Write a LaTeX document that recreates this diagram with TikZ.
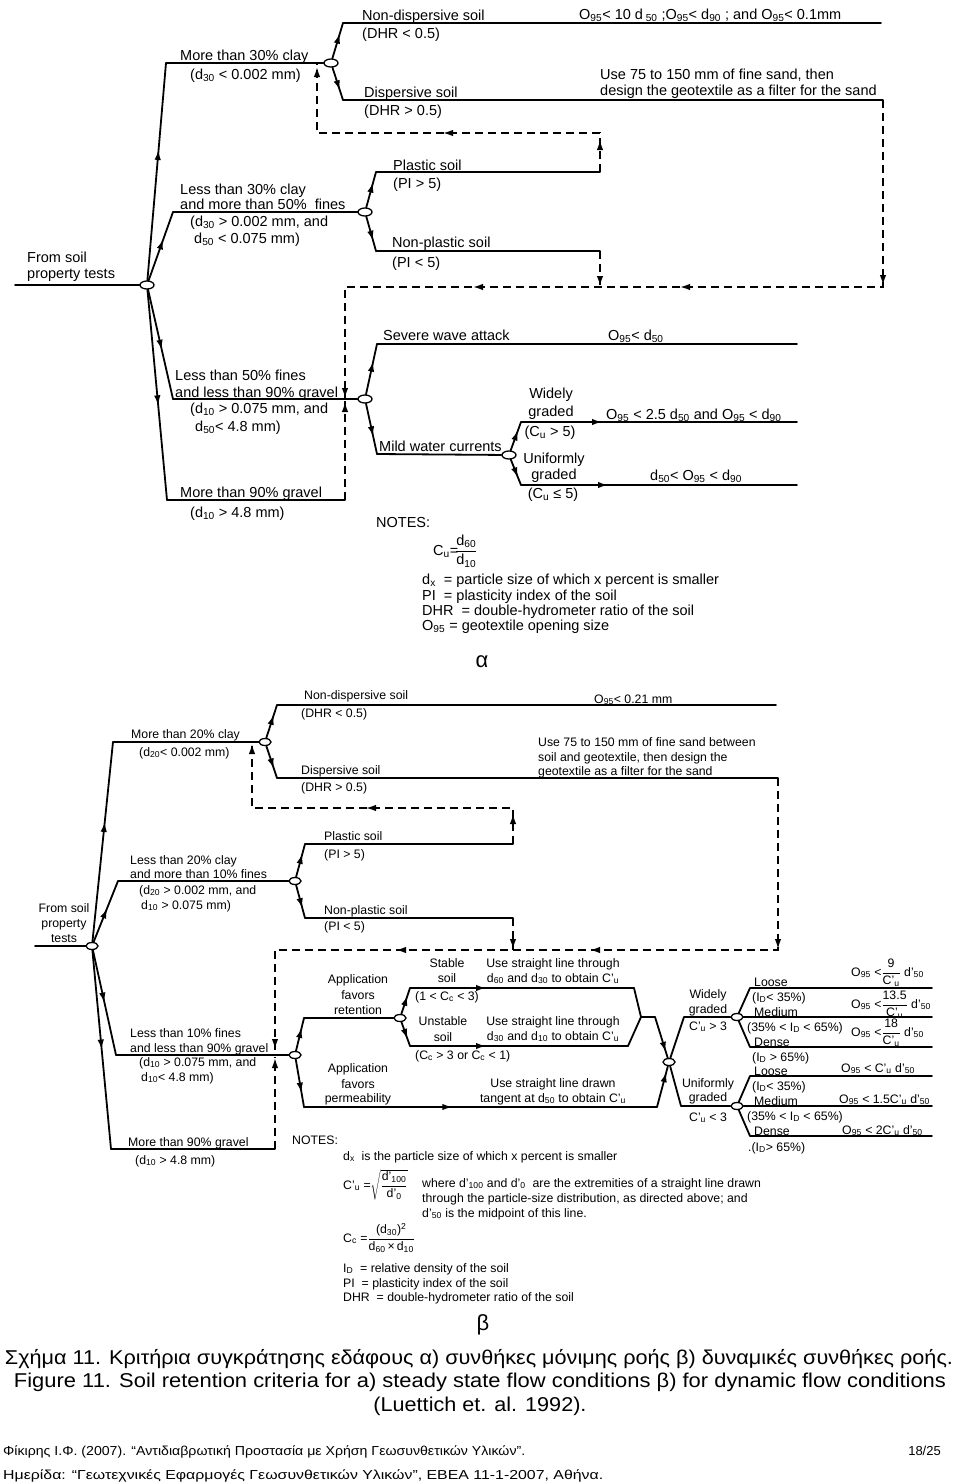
\documentclass[tikz,border=0pt]{standalone}
\usepackage{fontspec}
\setmainfont{Liberation Sans}
\usepackage{graphicx}
\usetikzlibrary{shapes.geometric,arrows.meta,decorations.markings}
\newcommand{\sbs}[1]{\textsubscript{#1}}
\newcommand{\fA}{\fontsize{14.5}{16}\selectfont}
\newcommand{\fB}{\fontsize{12.3}{14}\selectfont}
\newcommand{\fC}{\fontsize{20}{24}\selectfont}
\newcommand{\fD}{\fontsize{13}{15}\selectfont}
\newcommand{\fG}{\fontsize{22}{24}\selectfont}
\begin{document}
\begin{tikzpicture}[x=1pt,y=-1pt,
  ln/.style={line width=1.8pt,line cap=round,line join=round},
  dl/.style={line width=1.6pt,dash pattern=on 8pt off 5pt},
  jn/.style={ellipse,draw,fill=white,line width=1.3pt,minimum width=14pt,minimum height=8pt,inner sep=0pt},
  jb/.style={jn,minimum width=12pt,minimum height=7pt},
  am/.style={postaction={decorate,decoration={markings,mark=at position #1 with {\arrow{Latex[length=10pt,width=6.5pt]}}}}},
  ta/.style={font=\fA,anchor=base west,inner sep=0pt},
  tac/.style={font=\fA,anchor=base,inner sep=0pt},
  tb/.style={font=\fB,anchor=base west,inner sep=0pt},
  tbc/.style={font=\fB,anchor=base,inner sep=0pt}]
\useasboundingbox (0,0) rectangle (960,1484);
\fill[white] (0,0) rectangle (960,1484);

%================ TOP DIAGRAM (a) ================
\node[jn] (J1) at (147,285) {};
\node[jn] (J2) at (331,63) {};
\node[jn] (J3) at (365,212) {};
\node[jn] (J4) at (365,399) {};
\node[jn] (J5) at (509,455) {};
\coordinate (s0) at (15,285);
\coordinate (a1) at (166,63);
\coordinate (a2) at (343,23);  \coordinate (a2e) at (881,23);
\coordinate (a3) at (343,100); \coordinate (a3e) at (883,100);
\coordinate (b1) at (173,212);
\coordinate (b2) at (376,172); \coordinate (b2e) at (600,172);
\coordinate (b3) at (376,251); \coordinate (b3e) at (600,251);
\coordinate (c1) at (173,399);
\coordinate (c2) at (377,344); \coordinate (c2e) at (797,344);
\coordinate (c3) at (377,454);
\coordinate (c4) at (521,422); \coordinate (c4e) at (797,422);
\coordinate (c5) at (521,485); \coordinate (c5e) at (797,485);
\coordinate (d1) at (167,500); \coordinate (d1e) at (345,500);

\draw[ln] (s0) -- (J1);
\draw[ln,am=0.6] (J1) -- (a1); \draw[ln] (a1) -- (J2);
\draw[ln,am=0.7] (J2) -- (a2); \draw[ln] (a2) -- (a2e);
\draw[ln,am=0.7] (J2) -- (a3); \draw[ln] (a3) -- (a3e);
\draw[ln,am=0.6] (J1) -- (b1); \draw[ln] (b1) -- (J3);
\draw[ln,am=0.7] (J3) -- (b2); \draw[ln] (b2) -- (b2e);
\draw[ln,am=0.7] (J3) -- (b3); \draw[ln] (b3) -- (b3e);
\draw[ln,am=0.55] (J1) -- (c1); \draw[ln] (c1) -- (J4);
\draw[ln,am=0.55] (J1) -- (d1); \draw[ln] (d1) -- (d1e);
\draw[ln,am=0.65] (J4) -- (c2); \draw[ln] (c2) -- (c2e);
\draw[ln,am=0.65] (J4) -- (c3); \draw[ln] (c3) -- (J5);
\draw[ln,am=0.7] (J5) -- (c4); \draw[ln,am=81pt] (c4) -- (c4e);
\draw[ln,am=0.7] (J5) -- (c5); \draw[ln,am=87pt] (c5) -- (c5e);

% dashed feedback lines
\coordinate (da1) at (600,133); \coordinate (da2) at (317,133); \coordinate (da3) at (317,64);
\draw[dl,am=32pt,am=196pt,am=388pt] (b2e) -- (da1) -- (da2) -- (da3);
\coordinate (db1) at (600,287);
\draw[dl,am=35pt] (b3e) -- (db1);
\coordinate (dc1) at (883,287); \coordinate (dc2) at (345,287); \coordinate (dc3) at (345,398);
\draw[dl,am=185pt,am=390pt,am=597pt,am=836pt] (a3e) -- (dc1) -- (dc2) -- (dc3);
\coordinate (dd1) at (345,401);
\draw[dl,am=98pt] (d1e) -- (dd1);

% texts (a)
\node[ta] (t01) at (362,20) {Non-dispersive soil};
\node[ta] (t02) at (362,38) {(DHR < 0.5)};
\node[ta] (t03) at (579,19) {O\sbs{95}< 10 d\sbs{ 50} ;O\sbs{95}< d\sbs{90} ; and O\sbs{95}< 0.1mm};
\node[ta] (t04) at (180,60) {More than 30\% clay};
\node[ta] (t05) at (190,79) {(d\sbs{30} < 0.002 mm)};
\node[ta] (t06) at (600,79) {Use 75 to 150 mm of fine sand, then};
\node[ta] (t07) at (600,95) {design the geotextile as a filter for the sand};
\node[ta] (t08) at (364,97) {Dispersive soil};
\node[ta] (t09) at (364,115) {(DHR > 0.5)};
\node[ta] (t10) at (393,170) {Plastic soil};
\node[ta] (t11) at (393,188) {(PI > 5)};
\node[ta] (t12) at (180,194) {Less than 30\% clay};
\node[ta] (t13) at (180,209) {and more than 50\%\ \ fines};
\node[ta] (t14) at (190,226) {(d\sbs{30} > 0.002 mm, and};
\node[ta] (t15) at (194,243) {d\sbs{50} < 0.075 mm)};
\node[ta] (t16) at (392,247) {Non-plastic soil};
\node[ta] (t17) at (392,267) {(PI < 5)};
\node[ta] (t18) at (27,262) {From soil};
\node[ta] (t19) at (27,278) {property tests};
\node[ta] (t20) at (383,340) {Severe wave attack};
\node[ta] (t21) at (608,340) {O\sbs{95}< d\sbs{50}};
\node[ta] (t22) at (175,380) {Less than 50\% fines};
\node[ta] (t23) at (175,397) {and less than 90\% gravel};
\node[ta] (t24) at (190,413) {(d\sbs{10} > 0.075 mm, and};
\node[ta] (t25) at (195,431) {d\sbs{50}< 4.8 mm)};
\node[ta] (t26) at (379,451) {Mild water currents};
\node[ta] (t27) at (180,497) {More than 90\% gravel};
\node[ta] (t28) at (190,517) {(d\sbs{10} > 4.8 mm)};
\node[tac] (t29) at (551,398) {Widely};
\node[tac] (t30) at (551,416) {graded};
\node[tac] (t31) at (550,436) {(C\sbs{u} > 5)};
\node[tac] (t32) at (554,463) {Uniformly};
\node[tac] (t33) at (554,479) {graded};
\node[tac] (t34) at (553,498) {(C\sbs{u} ≤ 5)};
\node[ta] (t35) at (606,419) {O\sbs{95} < 2.5 d\sbs{50} and O\sbs{95} < d\sbs{90}};
\node[ta] (t36) at (650,480) {d\sbs{50}< O\sbs{95} < d\sbs{90}};

% notes (a)
\node[ta] (n1) at (376,527) {NOTES:};
\node[ta] (n2) at (433,555) {C\sbs{u}=};
\node[ta] (n3) at (455,555) {$\displaystyle\frac{\hbox{d\sbs{60}}}{\hbox{d\sbs{10}}}$};
\node[ta] (n4) at (422,584) {d\sbs{x}\ \ = particle size of which x percent is smaller};
\node[ta] (n5) at (422,600) {PI\ \ = plasticity index of the soil};
\node[ta] (n6) at (422,615) {DHR\ \ = double-hydrometer ratio of the soil};
\node[ta] (n7) at (422,630) {O\sbs{95} = geotextile opening size};
\node[font=\fG,anchor=base,inner sep=0pt] (alpha) at (482,667) {α};

%================ BOTTOM DIAGRAM (b) ================
\node[jb] (K1) at (92,946) {};
\node[jb] (K2) at (265,742) {};
\node[jb] (K3) at (295,881) {};
\node[jb] (K4) at (295,1055) {};
\node[jb] (K5) at (400,1018) {};
\node[jb] (K6) at (669,1062) {};
\node[jb] (K7) at (737,1017) {};
\node[jb] (K8) at (737,1106) {};
\coordinate (t0) at (35,946);
\coordinate (e1) at (113,742);
\coordinate (e2) at (277,705); \coordinate (e2e) at (776,705);
\coordinate (e3) at (277,778); \coordinate (e3e) at (778,778);
\coordinate (f1) at (118,881);
\coordinate (f2) at (305,844); \coordinate (f2e) at (513,844);
\coordinate (f3) at (305,918); \coordinate (f3e) at (513,918);
\coordinate (g1) at (116,1055);
\coordinate (g2) at (304,1018);
\coordinate (g3) at (304,1107); \coordinate (g3e) at (657,1107);
\coordinate (h1) at (111,1149); \coordinate (h1e) at (275,1149);
\coordinate (p1) at (410,988); \coordinate (p1e) at (634,988);
\coordinate (p2) at (410,1046); \coordinate (p2e) at (628,1046);
\coordinate (pm) at (641,1017); \coordinate (pm2) at (655,1017);
\coordinate (q1) at (684,1017);
\coordinate (q2) at (681,1106);
\coordinate (r1) at (750,988); \coordinate (r1e) at (932,988);
\coordinate (r2e) at (932,1017);
\coordinate (r3) at (750,1047); \coordinate (r3e) at (932,1047);
\coordinate (u1) at (750,1076); \coordinate (u1e) at (932,1076);
\coordinate (u2e) at (932,1106);
\coordinate (u3) at (750,1136); \coordinate (u3e) at (932,1136);

\draw[ln] (t0) -- (K1);
\draw[ln,am=0.6] (K1) -- (e1); \draw[ln] (e1) -- (K2);
\draw[ln,am=0.7] (K2) -- (e2); \draw[ln] (e2) -- (e2e);
\draw[ln,am=0.7] (K2) -- (e3); \draw[ln] (e3) -- (e3e);
\draw[ln,am=0.55] (K1) -- (f1); \draw[ln] (f1) -- (K3);
\draw[ln,am=0.7] (K3) -- (f2); \draw[ln] (f2) -- (f2e);
\draw[ln,am=0.7] (K3) -- (f3); \draw[ln] (f3) -- (f3e);
\draw[ln,am=0.5] (K1) -- (g1); \draw[ln] (g1) -- (K4);
\draw[ln,am=0.5] (K1) -- (h1); \draw[ln] (h1) -- (h1e);
\draw[ln,am=0.7] (K4) -- (g2); \draw[ln] (g2) -- (K5);
\draw[ln,am=0.7] (K4) -- (g3); \draw[ln,am=0.42] (g3) -- (g3e); \draw[ln,am=0.85] (g3e) -- (K6);
\draw[ln,am=0.7] (K5) -- (p1); \draw[ln,am=76pt] (p1) -- (p1e); \draw[ln] (p1e) -- (pm);
\draw[ln,am=0.7] (K5) -- (p2); \draw[ln,am=76pt] (p2) -- (p2e); \draw[ln] (p2e) -- (pm);
\draw[ln] (pm) -- (pm2); \draw[ln,am=0.85] (pm2) -- (K6);
\draw[ln] (K6) -- (q1) -- (K7);
\draw[ln] (K6) -- (q2) -- (K8);
\draw[ln] (K7) -- (r1) -- (r1e);
\draw[ln] (K7) -- (r2e);
\draw[ln] (K7) -- (r3) -- (r3e);
\draw[ln] (K8) -- (u1) -- (u1e);
\draw[ln] (K8) -- (u2e);
\draw[ln] (K8) -- (u3) -- (u3e);

% dashed (b)
\coordinate (ea1) at (513,808); \coordinate (ea2) at (252,808); \coordinate (ea3) at (252,744);
\draw[dl,am=30pt,am=183pt,am=361pt] (f2e) -- (ea1) -- (ea2) -- (ea3);
\coordinate (eb1) at (513,950);
\draw[dl,am=31pt] (f3e) -- (eb1);
\coordinate (ec1) at (778,950); \coordinate (ec2) at (275,950); \coordinate (ec3) at (275,1053);
\draw[dl,am=171pt,am=360pt,am=554pt,am=774pt] (e3e) -- (ec1) -- (ec2) -- (ec3);
\coordinate (ed1) at (275,1057);
\draw[dl,am=91pt] (h1e) -- (ed1);

% texts (b)
\node[tb] (v01) at (304,699) {Non-dispersive soil};
\node[tb] (v02) at (301,717) {(DHR < 0.5)};
\node[tb] (v03) at (594,703) {O\sbs{95}< 0.21 mm};
\node[tb] (v04) at (131,738) {More than 20\% clay};
\node[tb] (v05) at (139,756) {(d\sbs{20}< 0.002 mm)};
\node[tb] (v06) at (538,746) {Use 75 to 150 mm of fine sand between};
\node[tb] (v07) at (538,761) {soil and geotextile, then design the};
\node[tb] (v08) at (538,775) {geotextile as a filter for the sand};
\node[tb] (v09) at (301,774) {Dispersive soil};
\node[tb] (v10) at (301,791) {(DHR > 0.5)};
\node[tb] (v11) at (324,840) {Plastic soil};
\node[tb] (v12) at (324,858) {(PI > 5)};
\node[tb] (v13) at (130,864) {Less than 20\% clay};
\node[tb] (v14) at (130,878) {and more than 10\% fines};
\node[tb] (v15) at (139,894) {(d\sbs{20} > 0.002 mm, and};
\node[tb] (v16) at (141,909) {d\sbs{10} > 0.075 mm)};
\node[tbc] (v17) at (64,912) {From soil};
\node[tbc] (v18) at (64,927) {property};
\node[tbc] (v19) at (64,942) {tests};
\node[tb] (v20) at (324,914) {Non-plastic soil};
\node[tb] (v21) at (324,930) {(PI < 5)};
\node[tb] (v22) at (130,1037) {Less than 10\% fines};
\node[tb] (v23) at (130,1052) {and less than 90\% gravel};
\node[tb] (v24) at (139,1066) {(d\sbs{10} > 0.075 mm, and};
\node[tb] (v25) at (141,1081) {d\sbs{10}< 4.8 mm)};
\node[tb] (v26) at (128,1146) {More than 90\% gravel};
\node[tb] (v27) at (135,1164) {(d\sbs{10} > 4.8 mm)};
\node[tbc] (v28) at (358,983) {Application};
\node[tbc] (v29) at (358,999) {favors};
\node[tbc] (v30) at (358,1014) {retention};
\node[tbc] (v31) at (358,1072) {Application};
\node[tbc] (v32) at (358,1088) {favors};
\node[tbc] (v33) at (358,1102) {permeability};
\node[tbc] (v34) at (447,967) {Stable};
\node[tbc] (v35) at (447,982) {soil};
\node[tb] (v36) at (415,1000) {(1 < C\sbs{c} < 3)};
\node[tbc] (v37) at (443,1025) {Unstable};
\node[tbc] (v38) at (443,1041) {soil};
\node[tb] (v39) at (415,1059) {(C\sbs{c} > 3 or C\sbs{c} < 1)};
\node[tbc] (v40) at (553,967) {Use straight line through};
\node[tbc] (v41) at (553,982) {d\sbs{60} and d\sbs{30} to obtain C'\sbs{u}};
\node[tbc] (v42) at (553,1025) {Use straight line through};
\node[tbc] (v43) at (553,1040) {d\sbs{30} and d\sbs{10} to obtain C'\sbs{u}};
\node[tbc] (v44) at (553,1087) {Use straight line drawn};
\node[tbc] (v45) at (553,1102) {tangent at d\sbs{50} to obtain C'\sbs{u}};
\node[tbc] (v46) at (708,998) {Widely};
\node[tbc] (v47) at (708,1013) {graded};
\node[tbc] (v48) at (708,1030) {C'\sbs{u} > 3};
\node[tbc] (v49) at (708,1087) {Uniformly};
\node[tbc] (v50) at (708,1101) {graded};
\node[tbc] (v51) at (708,1121) {C'\sbs{u} < 3};
\node[tb] (w01) at (754,986) {Loose};
\node[tb] (w02) at (752,1001) {(I\sbs{D}< 35\%)};
\node[tb] (w03) at (754,1016) {Medium};
\node[tb] (w04) at (747,1031) {(35\% < I\sbs{D} < 65\%)};
\node[tb] (w05) at (754,1046) {Dense};
\node[tb] (w06) at (752,1061) {(I\sbs{D} > 65\%)};
\node[tb] (w07) at (754,1075) {Loose};
\node[tb] (w08) at (752,1090) {(I\sbs{D}< 35\%)};
\node[tb] (w09) at (754,1105) {Medium};
\node[tb] (w10) at (747,1120) {(35\% < I\sbs{D} < 65\%)};
\node[tb] (w11) at (754,1135) {Dense};
\node[tb] (w12) at (748,1151) {.(I\sbs{D}> 65\%)};
\node[tb] (x01) at (851,976) {O\sbs{95} <$\displaystyle\frac{\hbox{9}}{\hbox{C'\sbs{u}}}$ d'\sbs{50}};
\node[tb] (x02) at (851,1008) {O\sbs{95} <$\displaystyle\frac{\hbox{13.5}}{\hbox{C'\sbs{u}}}$ d'\sbs{50}};
\node[tb] (x03) at (851,1036) {O\sbs{95} <$\displaystyle\frac{\hbox{18}}{\hbox{C'\sbs{u}}}$ d'\sbs{50}};
\node[tb] (x04) at (841,1072) {O\sbs{95} < C'\sbs{u} d'\sbs{50}};
\node[tb] (x05) at (839,1103) {O\sbs{95} < 1.5C'\sbs{u} d'\sbs{50}};
\node[tb] (x06) at (842,1134) {O\sbs{95} < 2C'\sbs{u} d'\sbs{50}};

% notes (b)
\node[tb] (m1) at (292,1144) {NOTES:};
\node[tb] (m2) at (343,1160) {d\sbs{x}\ \ is the particle size of which x percent is smaller};
\node[tb] (m3) at (343,1189) {C'\sbs{u} =$\sqrt{\displaystyle\frac{\hbox{d'\sbs{100}}}{\hbox{d'\sbs{0}}}}$};
\node[tb] (m4) at (422,1187) {where d'\sbs{100} and d'\sbs{0}\ \ are the extremities of a straight line drawn};
\node[tb] (m5) at (422,1202) {through the particle-size distribution, as directed above; and};
\node[tb] (m6) at (422,1217) {d'\sbs{50} is the midpoint of this line.};
\node[tb] (m7) at (343,1242) {C\sbs{c} =$\displaystyle\frac{\hbox{(d\sbs{30})\textsuperscript{2}}}{\hbox{d\sbs{60}\,×\,d\sbs{10}}}$};
\node[tb] (m8) at (343,1272) {I\sbs{D}\ \ = relative density of the soil};
\node[tb] (m9) at (343,1287) {PI\ \ = plasticity index of the soil};
\node[tb] (m10) at (343,1301) {DHR\ \ = double-hydrometer ratio of the soil};
\node[font=\fG,anchor=base,inner sep=0pt] (beta) at (483,1330) {β};

%================ CAPTIONS ================
\node[anchor=base,inner sep=0pt] (cap1) at (479,1364) {\resizebox{948pt}{\height}{\fC Σχήμα 11. Κριτήρια συγκράτησης εδάφους α) συνθήκες μόνιμης ροής β) δυναμικές συνθήκες ροής.}};
\node[anchor=base,inner sep=0pt] (cap2) at (480,1387) {\resizebox{932pt}{\height}{\fC Figure 11. Soil retention criteria for a) steady state flow conditions β) for dynamic flow conditions}};
\node[anchor=base,inner sep=0pt] (cap3) at (480,1411) {\resizebox{213pt}{\height}{\fC (Luettich et. al. 1992).}};
\node[anchor=base west,inner sep=0pt] (ft1) at (3,1455) {\resizebox{522pt}{\height}{\fD Φίκιρης Ι.Φ. (2007). “Αντιδιαβρωτική Προστασία με Χρήση Γεωσυνθετικών Υλικών”.}};
\node[anchor=base east,inner sep=0pt,font=\fD] (ft2) at (941,1455) {18/25};
\node[anchor=base west,inner sep=0pt] (ft3) at (3,1479) {\resizebox{600pt}{\height}{\fD Ημερίδα: “Γεωτεχνικές Εφαρμογές Γεωσυνθετικών Υλικών”, ΕΒΕΑ 11-1-2007, Αθήνα.}};
\end{tikzpicture}
\end{document}
